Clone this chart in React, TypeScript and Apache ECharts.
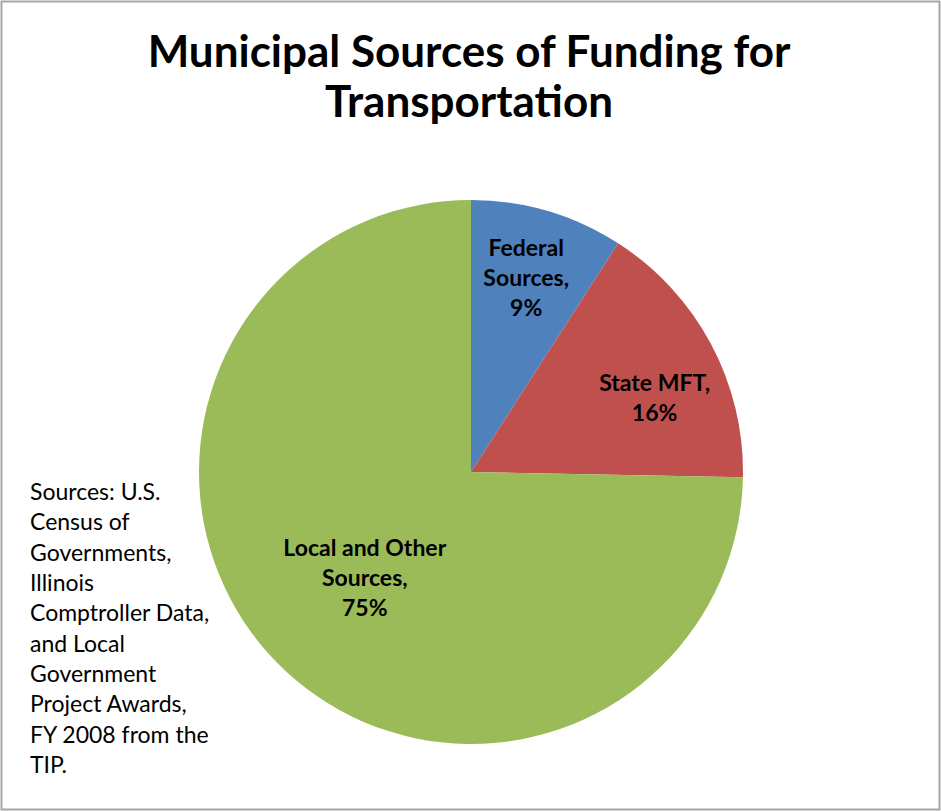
import React, { useEffect, useRef } from "react";
import * as echarts from "echarts";

const TITLE_LINES = ["Municipal Sources of Funding for", "Transportation"];
const CATEGORIES = ["Federal\nSources", "State MFT", "Local and Other\nSources"];
const VALUES = [9.1, 16.2, 74.7];
const COLORS = ["#4F81BD", "#C0504D", "#9BBB59"];
const SOURCE_LINES = [
  "Sources: U.S.",
  "Census of",
  "Governments,",
  "Illinois",
  "Comptroller Data,",
  "and Local",
  "Government",
  "Project Awards,",
  "FY 2008 from the",
  "TIP.",
];
// label nudges (dx, dy) to mimic the spreadsheet's "best fit" placement
const LABEL_SHIFT = [
  [16, -62],
  [61, -10],
  [-7, 8],
];

export default function App() {
  const ref = useRef<HTMLDivElement>(null);
  useEffect(() => {
    if (!ref.current) return;
    const chart = echarts.init(ref.current, undefined, { renderer: "svg" });
    const font = "Lato, 'Open Sans', 'Noto Sans', sans-serif";
    chart.setOption({
      animation: false,
      backgroundColor: "#ffffff",
      title: {
        text: TITLE_LINES.join("\n"),
        left: 469,
        top: 25,
        textAlign: "center",
        textStyle: {
          fontFamily: font,
          fontWeight: "bold",
          fontSize: 44,
          lineHeight: 50,
          color: "#000000",
        },
        padding: 0,
      },
      graphic: [
        {
          type: "rect",
          shape: { x: 1.5, y: 1.5, width: 938, height: 808 },
          style: { fill: "none", stroke: "#a6a6a6", lineWidth: 2 },
          silent: true,
        },
        {
          type: "text",
          left: 30,
          top: 476,
          silent: true,
          style: {
            text: SOURCE_LINES.join("\n"),
            fontFamily: font,
            fontSize: 23,
            lineHeight: 30.3,
            fill: "#000000",
          },
        },
      ],
      series: [
        {
          type: "pie",
          center: [471, 472],
          radius: 272,
          startAngle: 90,
          clockwise: true,
          silent: true,
          emphasis: { disabled: true },
          itemStyle: { borderWidth: 0 },
          label: {
            show: true,
            position: "inside",
            fontFamily: font,
            fontWeight: "bold",
            fontSize: 23,
            lineHeight: 30,
            color: "#000000",
            align: "center",
            formatter: (p: any) => `${p.name},\n${Math.round(p.percent)}%`,
          },
          labelLayout: (p: any) => {
            const s = LABEL_SHIFT[p.dataIndex];
            return { dx: s[0], dy: s[1] };
          },
          data: CATEGORIES.map((name, i) => ({
            name,
            value: VALUES[i],
            itemStyle: { color: COLORS[i] },
          })),
        },
      ],
    });
    return () => chart.dispose();
  }, []);
  return (
    <div
      ref={ref}
      style={{ position: "fixed", left: 0, top: 0, width: 941, height: 811 }}
    />
  );
}
